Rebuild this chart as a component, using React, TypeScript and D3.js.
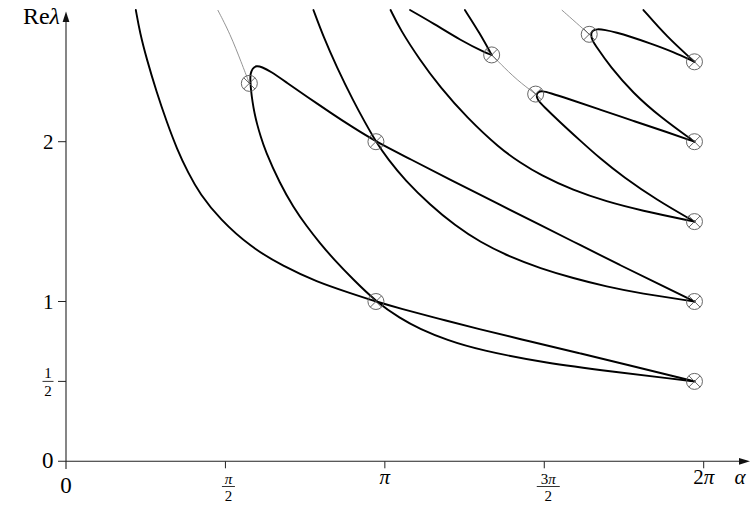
import React from "react";
import * as d3 from "d3";

type P = [number, number]; // [alpha / π, Re λ]

const W = 755;
const H = 511;

// axis ticks (alpha in units of π)
const xTicks = [0, 0.5, 1, 1.5, 2];
const yTicks = [0, 0.5, 1, 2];

// solid branches
const branchA: P[] = [
  [0.219, 2.824], [0.232, 2.68], [0.253, 2.518], [0.284, 2.311], [0.316, 2.123],
  [0.348, 1.954], [0.383, 1.805], [0.42, 1.673], [0.483, 1.514], [0.577, 1.344],
  [0.682, 1.219], [0.786, 1.124], [0.891, 1.053], [0.972, 1.0], [1.048, 0.956],
  [1.173, 0.89], [1.288, 0.831], [1.455, 0.75], [1.612, 0.676], [1.769, 0.599],
  [1.905, 0.533], [1.971, 0.5],
];
const loopA: P[] = [
  [1.971, 1.0], [1.863, 1.106], [1.737, 1.228], [1.612, 1.354], [1.487, 1.479],
  [1.361, 1.605], [1.204, 1.763], [1.079, 1.892], [0.972, 2.0], [0.891, 2.101],
  [0.838, 2.17], [0.755, 2.283], [0.692, 2.37], [0.64, 2.442], [0.615, 2.467],
  [0.597, 2.476], [0.585, 2.46], [0.578, 2.424], [0.578, 2.386], [0.58, 2.324],
  [0.585, 2.248], [0.591, 2.18], [0.599, 2.111], [0.61, 2.036], [0.624, 1.948],
  [0.671, 1.737], [0.713, 1.591], [0.755, 1.47], [0.797, 1.364], [0.838, 1.268],
  [0.901, 1.137], [0.972, 1.0], [1.048, 0.894], [1.11, 0.828], [1.194, 0.759],
  [1.298, 0.696], [1.508, 0.613], [1.716, 0.561], [1.905, 0.515], [1.971, 0.5],
];
const branchB: P[] = [
  [0.776, 2.824], [0.807, 2.658], [0.849, 2.467], [0.901, 2.255], [0.938, 2.12],
  [0.972, 2.0], [1.01, 1.889], [1.063, 1.76], [1.142, 1.604], [1.22, 1.476],
  [1.298, 1.372], [1.393, 1.278], [1.487, 1.208], [1.591, 1.145], [1.696, 1.093],
  [1.8, 1.051], [1.971, 1.0],
];
const branchD: P[] = [
  [1.018, 2.824], [1.048, 2.702], [1.11, 2.511], [1.173, 2.342], [1.257, 2.151],
  [1.361, 1.957], [1.424, 1.87], [1.487, 1.792], [1.591, 1.695], [1.696, 1.625],
  [1.8, 1.571], [1.971, 1.5],
];
const branchE: P[] = [
  [1.079, 2.824], [1.152, 2.741], [1.236, 2.636], [1.319, 2.553], [1.335, 2.543],
];
const branchF: P[] = [
  [1.251, 2.824], [1.298, 2.678], [1.335, 2.543],
];
const loopE: P[] = [
  [1.971, 2.0], [1.884, 2.061], [1.779, 2.13], [1.675, 2.201], [1.57, 2.272],
  [1.518, 2.305], [1.493, 2.319], [1.479, 2.31], [1.475, 2.289], [1.479, 2.261],
  [1.497, 2.223], [1.549, 2.123], [1.612, 2.008], [1.675, 1.895], [1.748, 1.779],
  [1.853, 1.635], [1.971, 1.5],
];
const loopF: P[] = [
  [1.971, 2.5], [1.905, 2.562], [1.832, 2.616], [1.769, 2.658], [1.727, 2.683],
  [1.69, 2.7], [1.665, 2.706], [1.65, 2.695], [1.646, 2.671], [1.65, 2.636],
  [1.664, 2.593], [1.706, 2.471], [1.779, 2.303], [1.863, 2.156], [1.971, 2.0],
];
const branchG: P[] = [
  [1.811, 2.824], [1.884, 2.657], [1.971, 2.5],
];

// thin grey locus of branch points
const locus1: P[] = [[0.476, 2.824], [0.514, 2.678], [0.551, 2.491], [0.575, 2.365]];
const locus2: P[] = [[1.335, 2.543], [1.361, 2.491], [1.414, 2.386], [1.473, 2.298]];
const locus3: P[] = [[1.555, 2.824], [1.602, 2.741], [1.641, 2.672]];

// marked points
const markers: P[] = [
  [0.575, 2.365], [0.972, 2.0], [0.972, 1.0], [1.335, 2.543], [1.473, 2.298],
  [1.641, 2.672], [1.971, 2.5], [1.971, 2.0], [1.971, 1.5], [1.971, 1.0], [1.971, 0.5],
];

const solid = [branchA, loopA, branchB, branchD, branchE, branchF, loopE, loopF, branchG];
const thin = [locus1, locus2, locus3];

const FONT = "'Liberation Serif', 'DejaVu Serif', serif";

export default function App() {
  const x = d3.scaleLinear().domain([0, 2]).range([66, 703.7]);
  const y = d3.scaleLinear().domain([0, 2]).range([461.3, 141.7]);
  const line = d3
    .line<P>()
    .x((d) => x(d[0]))
    .y((d) => y(d[1]))
    .curve(d3.curveBasis);

  const x0 = x(0);
  const y0 = y(0);
  const r = 8;
  const k = r * 0.7071;

  const Frac = ({ cx, cy, num, den, size = 15, bar = 11 }: any) => (
    <g fontFamily={FONT} fontSize={size} textAnchor="middle" fill="#000">
      <text x={cx} y={cy - 3}>{num}</text>
      <line x1={cx - bar / 2} x2={cx + bar / 2} y1={cy} y2={cy} stroke="#000" strokeWidth={0.8} />
      <text x={cx} y={cy + 14.5}>{den}</text>
    </g>
  );

  return (
    <svg
      width={W}
      height={H}
      style={{ position: "absolute", left: 0, top: 0, background: "#fff" }}
    >
      {/* axes */}
      <line x1={58} x2={742} y1={y0} y2={y0} stroke="#222" strokeWidth={1.1} />
      <path d={`M750,${y0} L739,${y0 - 3.4} L739,${y0 + 3.4} Z`} fill="#111" />
      <line x1={x0} x2={x0} y1={469} y2={20} stroke="#222" strokeWidth={1.1} />
      <path d={`M${x0},11.5 L${x0 - 3.4},22 L${x0 + 3.4},22 Z`} fill="#111" />

      {xTicks.slice(1).map((t) => (
        <line key={"xt" + t} x1={x(t)} x2={x(t)} y1={y0} y2={y0 + 7} stroke="#222" strokeWidth={1} />
      ))}
      {yTicks.slice(1).map((t) => (
        <line key={"yt" + t} x1={x0 - 8} x2={x0} y1={y(t)} y2={y(t)} stroke="#222" strokeWidth={1} />
      ))}

      {/* y tick labels */}
      <g fontFamily={FONT} fontSize={21} textAnchor="end" fill="#000">
        <text x={53.5} y={y(2) + 7}>2</text>
        <text x={53.5} y={y(1) + 7}>1</text>
        <text x={53.5} y={y(0) + 7} fontSize={23}>0</text>
      </g>
      <Frac cx={48} cy={y(0.5)} num="1" den="2" bar={11} />

      {/* x tick labels */}
      <g fontFamily={FONT} fontSize={21} textAnchor="middle" fill="#000">
        <text x={x(0)} y={492.5} fontSize={23}>0</text>
        <text x={x(1)} y={484} fontStyle="italic">π</text>
        <text x={x(2)} y={484}>
          2<tspan fontStyle="italic">π</tspan>
        </text>
        <text x={740} y={484} fontStyle="italic">α</text>
      </g>
      <Frac cx={x(0.5) + 3} cy={486.5} num={<tspan fontStyle="italic">π</tspan>} den="2" bar={13} />
      <Frac
        cx={x(1.5) + 4}
        cy={486.5}
        num={<>3<tspan fontStyle="italic">π</tspan></>}
        den="2"
        bar={23}
      />

      {/* y axis title */}
      <text x={60} y={24} fontFamily={FONT} fontSize={24} textAnchor="end" fill="#000">
        Re<tspan fontStyle="italic">λ</tspan>
      </text>

      {/* grey locus */}
      {thin.map((c, i) => (
        <path key={"t" + i} d={line(c) || ""} fill="none" stroke="#888" strokeWidth={0.9} />
      ))}

      {/* solid branches */}
      {solid.map((c, i) => (
        <path
          key={"s" + i}
          d={line(c) || ""}
          fill="none"
          stroke="#000"
          strokeWidth={1.9}
          strokeLinejoin="round"
          strokeLinecap="round"
        />
      ))}

      {/* markers */}
      {markers.map((m, i) => {
        const cx = x(m[0]);
        const cy = y(m[1]);
        return (
          <g key={"m" + i} stroke="#555" strokeWidth={0.9} fill="none">
            <circle cx={cx} cy={cy} r={r} />
            <line x1={cx - k} y1={cy - k} x2={cx + k} y2={cy + k} />
            <line x1={cx - k} y1={cy + k} x2={cx + k} y2={cy - k} />
          </g>
        );
      })}
    </svg>
  );
}
